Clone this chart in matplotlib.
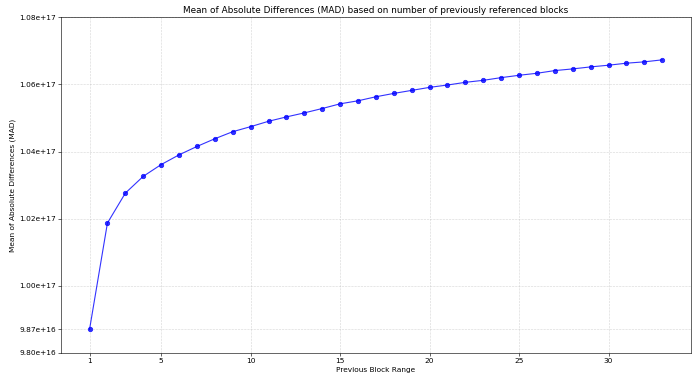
import numpy as np
import matplotlib
matplotlib.use("Agg")
import matplotlib.pyplot as plt
from matplotlib.ticker import FormatStrFormatter

# previous block range (x) and MAD values (y)
block_range = list(range(1, 34))
mad = [0.9870, 1.0187, 1.0276, 1.0326, 1.0361, 1.0390, 1.0415, 1.0438, 1.0459, 1.0474,
       1.0490, 1.0503, 1.0515, 1.0528, 1.0542, 1.0551, 1.0563, 1.0573, 1.0582, 1.0591,
       1.0598, 1.0606, 1.0612, 1.0620, 1.0627, 1.0633, 1.0641, 1.0646, 1.0652, 1.0657,
       1.0663, 1.0667, 1.0673]
mad = [v * 1e17 for v in mad]

x_ticks = [1, 5, 10, 15, 20, 25, 30]
y_ticks = [0.98e17, 0.987e17, 1.00e17, 1.02e17, 1.04e17, 1.06e17, 1.08e17]

dpi = 53.5
fig = plt.figure(figsize=(700 / dpi, 382 / dpi), dpi=dpi)
ax = fig.add_axes([0.087, 0.076, 0.9, 0.879])

ax.plot(block_range, mad, marker="o", color="blue", alpha=0.8, linewidth=1.5, markersize=6)

ax.set_ylim(0.98e17, 1.08e17)
ax.set_xticks(x_ticks)
ax.set_yticks(y_ticks)
ax.yaxis.set_major_formatter(FormatStrFormatter("%.2e"))
ax.grid(True, linestyle="--", alpha=0.5)

ax.set_title("Mean of Absolute Differences (MAD) based on number of previously referenced blocks")
ax.set_xlabel("Previous Block Range")
ax.set_ylabel("Mean of Absolute Differences (MAD)")

fig.savefig("out.png", dpi=dpi)
